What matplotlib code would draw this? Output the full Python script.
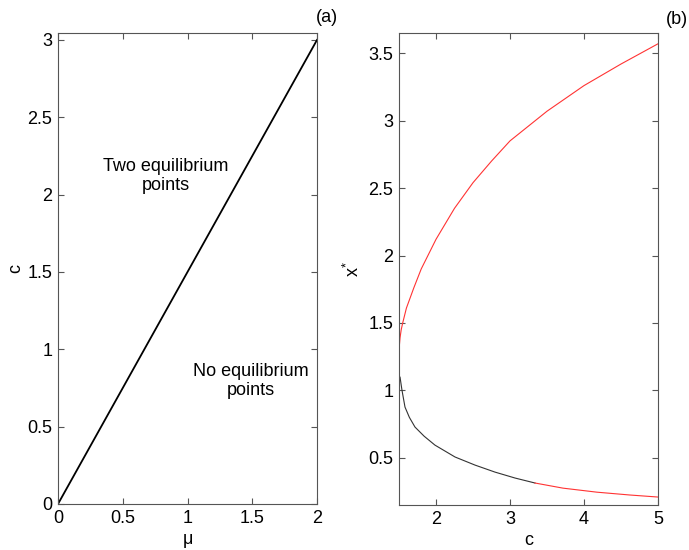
import matplotlib
matplotlib.use("Agg")
import matplotlib.pyplot as plt
import numpy as np

plt.rcParams['font.family'] = ['Liberation Sans', 'DejaVu Sans']
plt.rcParams['mathtext.fontset'] = 'custom'
plt.rcParams['mathtext.rm'] = 'Liberation Sans'
plt.rcParams['mathtext.it'] = 'Liberation Sans'

# Panel (a): boundary line c = 1.5 mu
mu_line = [0.0, 2.0]
c_line = [0.0, 3.0]
a_xticks = [0, 0.5, 1, 1.5, 2]
a_yticks = [0, 0.5, 1, 1.5, 2, 2.5, 3]

# Panel (b): equilibrium branches x* versus c
c_upper = [1.50, 1.514, 1.53, 1.55, 1.60, 1.70, 1.80, 2.00, 2.25, 2.50,
           2.75, 3.00, 3.50, 4.00, 4.50, 5.00]
x_upper = [1.30, 1.39, 1.45, 1.50, 1.61, 1.76, 1.90, 2.12, 2.35, 2.54,
           2.70, 2.85, 3.07, 3.26, 3.42, 3.57]
c_lower = [1.514, 1.54, 1.581, 1.64, 1.716, 1.84, 1.986, 2.257, 2.527, 2.797,
           3.068, 3.338, 3.716, 4.176, 4.622, 5.0]
x_lower = [1.098, 1.002, 0.876, 0.80, 0.728, 0.66, 0.594, 0.506, 0.446, 0.394,
           0.35, 0.313, 0.275, 0.245, 0.224, 0.209]
c_switch = 3.338  # lower branch turns red beyond this c
b_xticks = [2, 3, 4, 5]
b_yticks = [0.5, 1, 1.5, 2, 2.5, 3, 3.5]

fig = plt.figure(figsize=(6.89, 5.5), dpi=100)
ax1 = fig.add_axes([58/689, 1-504/550, 259/689, 471/550])
ax2 = fig.add_axes([399/689, 1-505/550, 259/689, 472/550])

spine_col = '#555555'
fs = 13

for ax in (ax1, ax2):
    for s in ax.spines.values():
        s.set_color(spine_col)
        s.set_linewidth(0.8)
    ax.tick_params(direction='in', top=True, right=True, length=4,
                   color=spine_col, labelsize=fs, labelcolor='black', width=0.8,
                   pad=4)

# Panel (a)
ax1.plot(mu_line, c_line, color='black', lw=1.3)
ax1.set_xlim(0, 2)
ax1.set_ylim(0, 3.045)
ax1.set_xticks(a_xticks)
ax1.set_xticklabels(['0', '0.5', '1', '1.5', '2'])
ax1.set_yticks(a_yticks)
ax1.set_yticklabels(['0', '0.5', '1', '1.5', '2', '2.5', '3'])
ax1.set_xlabel('μ', fontsize=fs, labelpad=3)
ax1.set_ylabel('c', fontsize=fs, labelpad=2)
ax1.text(0.834, 2.12, 'Two equilibrium\npoints', ha='center', va='center',
         fontsize=fs, linespacing=1.1)
ax1.text(1.49, 0.795, 'No equilibrium\npoints', ha='center', va='center',
         fontsize=fs, linespacing=1.1)

# Panel (b)
cl = np.array(c_lower)
xl = np.array(x_lower)
m_black = cl <= c_switch
m_red = cl >= c_switch
ax2.plot(c_upper, x_upper, color='#ff3333', lw=0.8)
ax2.plot(cl[m_black], xl[m_black], color='#333333', lw=0.8)
ax2.plot(cl[m_red], xl[m_red], color='#ff3333', lw=0.8)
ax2.set_xlim(1.5, 5)
ax2.set_ylim(0.15, 3.65)
ax2.set_xticks(b_xticks)
ax2.set_xticklabels(['2', '3', '4', '5'])
ax2.set_yticks(b_yticks)
ax2.set_yticklabels(['0.5', '1', '1.5', '2', '2.5', '3', '3.5'])
ax2.set_xlabel('c', fontsize=fs, labelpad=3)
ax2.set_ylabel(r'$\mathrm{x}^{*}$', fontsize=fs, labelpad=4)

fig.text(327/689, 1-18/550, '(a)', ha='center', va='center', fontsize=fs)
fig.text(677/689, 1-20/550, '(b)', ha='center', va='center', fontsize=fs)

fig.savefig('out.png', dpi=100)
